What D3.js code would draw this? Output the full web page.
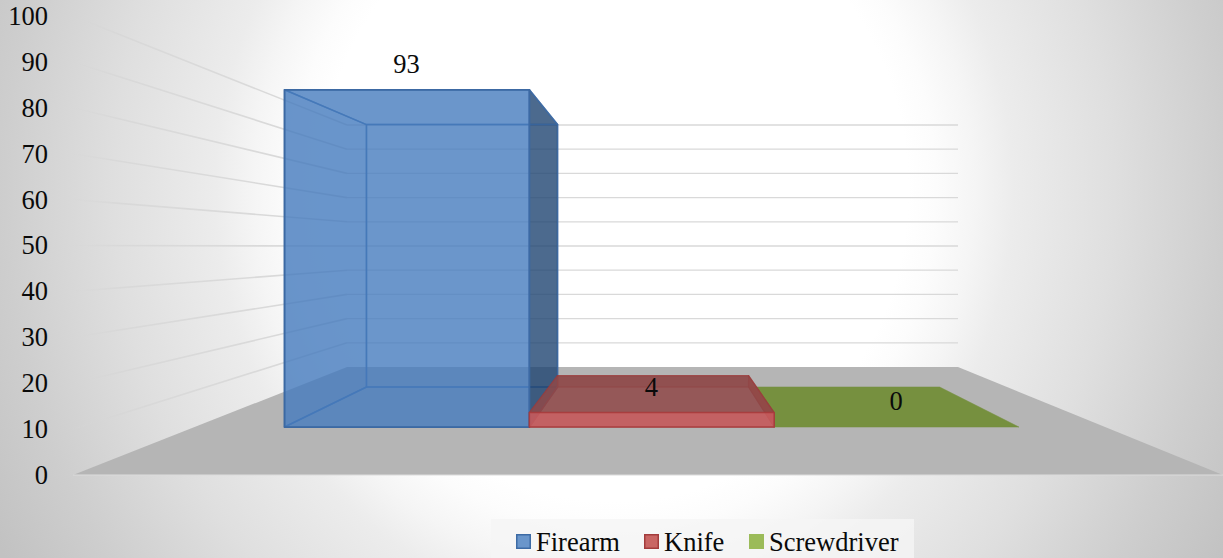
<!DOCTYPE html>
<html><head><meta charset="utf-8">
<script src="https://cdn.jsdelivr.net/npm/d3@7/dist/d3.min.js"></script>
<style>html,body{margin:0;padding:0;background:#fff;overflow:hidden}svg{display:block}text{font-family:"Liberation Serif",serif;fill:#0a0a0a}</style>
</head><body><svg id="c" width="1223" height="558"></svg>
<script>
const seriesNames = ["Firearm","Knife","Screwdriver"];
const seriesValues = [93,4,0];
const tickValues = [0,10,20,30,40,50,60,70,80,90,100];
const frontDepth = 0.444, backDepth = 0.815;

const W = 1223, H = 558, FS = 26.5;
const svg = d3.select("#c");
const defs = svg.append("defs");

// Chart-area background
const bg = defs.append("radialGradient").attr("id","bg").attr("gradientUnits","userSpaceOnUse")
  .attr("cx",0).attr("cy",0).attr("r",1)
  .attr("gradientTransform","translate(614,190) scale(700,742)");
[[0,"#ffffff"],[0.42,"#ffffff"],[0.46,"#fcfcfc"],[0.515,"#f5f5f5"],[0.57,"#ececec"],[0.715,"#dfdfdf"],[0.87,"#cecece"],[1,"#c2c2c2"]]
  .forEach(s=>bg.append("stop").attr("offset",s[0]).attr("stop-color",s[1]));
svg.append("rect").attr("width",W).attr("height",H).attr("fill","url(#bg)");

// 3D projection built from linear scales
const floorY  = d3.scaleLinear([0,1],[475,367]);
const unitY   = d3.scaleLinear([0,1],[4.59,2.42]);
const leftX   = d3.scaleLinear([0,1],[73,347]);
const rightX  = d3.scaleLinear([0,1],[1223,958]);
const frontAxis = d3.scaleLinear([0,100],[475,16]);
const band = d3.scaleBand(seriesNames,[0,1]).paddingInner(0).paddingOuter(0.36).align(0.51);
const P = (u,t,v)=>[leftX(t)+u*(rightX(t)-leftX(t)), floorY(t)-unitY(t)*v];
const line = d3.line();
const poly = pts=>line(pts)+"Z";

// floor
svg.append("path").attr("d",poly([P(0,0,0),P(1,0,0),P(1,1,0),P(0,1,0)])).attr("fill","#b5b5b5");
svg.append("path").attr("d",line([P(0,0,0),P(1,0,0)])).attr("stroke","#dcdcdc").attr("stroke-width",1).attr("fill","none");

// gridlines
const wg = defs.append("linearGradient").attr("id","wall").attr("gradientUnits","userSpaceOnUse")
  .attr("x1",66).attr("x2",280).attr("y1",0).attr("y2",0);
wg.append("stop").attr("offset",0).attr("stop-color","#d6d6d6").attr("stop-opacity",0.05);
wg.append("stop").attr("offset",0.25).attr("stop-color","#d6d6d6").attr("stop-opacity",0.75);
wg.append("stop").attr("offset",1).attr("stop-color","#d9d9d9");
const gridTicks = tickValues.filter(v=>v>0);
svg.append("g").selectAll("path.wall").data(gridTicks).join("path").attr("class","wall")
  .attr("d",v=>line([P(0,0,v),P(0,1,v)]))
  .attr("stroke","url(#wall)").attr("stroke-width",1.6).attr("fill","none");
svg.append("g").selectAll("path.back").data(gridTicks).join("path").attr("class","back")
  .attr("d",v=>line([P(0,1,v),P(1,1,v)]))
  .attr("stroke","#d9d9d9").attr("stroke-width",1.3).attr("fill","none");

// axis
const axisG = svg.append("g").attr("transform","translate(48,0)")
  .call(d3.axisLeft(frontAxis).tickValues(tickValues).tickSize(0).tickPadding(0));
axisG.select(".domain").remove();
axisG.selectAll("text").attr("font-family","Liberation Serif").attr("font-size",FS).attr("dy","0.32em");

function box(name,val,st){
  const u0=band(name),u1=u0+band.bandwidth(),f=frontDepth,b=backDepth;
  const g=svg.append("g");
  const face=(pts,fill,op,stroke,sw,sop)=>g.append("path").attr("d",poly(pts))
    .attr("fill",fill).attr("fill-opacity",op).attr("stroke",stroke||"none").attr("stroke-width",sw||0).attr("stroke-opacity",sop==null?1:sop).attr("stroke-linejoin","round");
  const A=P(u0,f,0),B=P(u1,f,0),C=P(u1,f,val),D=P(u0,f,val);
  const E=P(u0,b,0),F=P(u1,b,0),G=P(u1,b,val),K=P(u0,b,val);
  if(st.flat){ face([A,B,F,E],st.flat,1,st.flat,1,0.5); return; }
  face([E,F,G,K],st.back,st.backOp,st.inner,st.innerW,st.innerOp);
  face([A,E,K,D],st.left,st.leftOp,st.inner,st.innerW,st.innerOp);
  face([A,B,F,E],st.bottom,st.bottomOp,st.inner,st.innerW,st.innerOp);
  face([B,F,G,C],st.side,st.sideOp,st.inner,st.innerW,st.sideEdgeOp);
  face([D,C,G,K],st.top,st.topOp,st.inner,st.innerW,st.innerOp);
  face([A,B,C,D],st.front,st.frontOp,st.edge,st.edgeW,st.edgeOp);
}
const styles = {
  Firearm:{front:"#467cbe",frontOp:0.8,back:"#467cbe",backOp:0,left:"#467cbe",leftOp:0.05,bottom:"#467cbe",bottomOp:0,
    side:"#1f4572",sideOp:0.8,top:"#467cbe",topOp:0,edge:"#3c69a3",edgeW:1.8,edgeOp:1,inner:"#3c69a3",innerW:1.5,innerOp:0.8,sideEdgeOp:0.8},
  Screwdriver:{flat:"#76903f"},
  Knife:{front:"#c45a5c",frontOp:0.92,back:"#7d2f2f",backOp:0.4,left:"#8f4040",leftOp:0,bottom:"#8f4040",bottomOp:0,
    side:"#a84a44",sideOp:0.85,top:"#8f4848",topOp:0.86,edge:"#a8393b",edgeW:1.5,edgeOp:0.85,inner:"#9c3a3a",innerW:1.2,innerOp:0.55,sideEdgeOp:0.8}
};
["Firearm","Screwdriver","Knife"].forEach(n=>box(n,seriesValues[seriesNames.indexOf(n)],styles[n]));

// data labels
svg.append("g").selectAll("text").data(seriesNames).join("text")
  .attr("x",n=>P(band(n)+band.bandwidth()/2,frontDepth,0)[0]-0.5)
  .attr("y",(n,i)=>P(0,frontDepth,seriesValues[i])[1]-17)
  .attr("text-anchor","middle").attr("font-size",FS).text((n,i)=>seriesValues[i]);

// legend
svg.append("rect").attr("x",491).attr("y",519).attr("width",423).attr("height",39).attr("fill","#f5f5f5").attr("fill-opacity",0.8);
const legendX = d3.scaleOrdinal(seriesNames,[516,644,749]);
const swatch = {Firearm:["#6a96cb","#3d6ba5"],Knife:["#c96664","#a33c3c"],Screwdriver:["#9bbb59","#9bbb59"]};
const lg = svg.append("g").selectAll("g").data(seriesNames).join("g").attr("transform",n=>`translate(${legendX(n)},0)`);
lg.append("rect").attr("x",0.75).attr("y",534.75).attr("width",13.5).attr("height",13.5)
  .attr("fill",n=>swatch[n][0]).attr("stroke",n=>swatch[n][1]).attr("stroke-width",1.5);
lg.append("text").attr("x",20).attr("y",551).attr("font-size",FS).text(n=>n);
</script></body></html>
